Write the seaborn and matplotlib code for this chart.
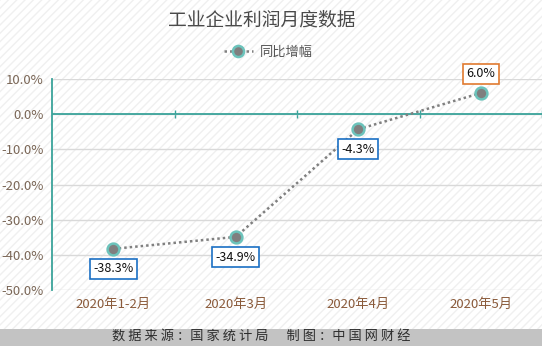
import matplotlib
matplotlib.use("Agg")
import matplotlib.pyplot as plt
from matplotlib.patches import Rectangle
from matplotlib.lines import Line2D
import seaborn as sns
import pandas as pd

categories = ["2020年1-2月", "2020年3月", "2020年4月", "2020年5月"]
values = [-38.3, -34.9, -4.3, 6.0]
series_name = "同比增幅"
title = "工业企业利润月度数据"
footer = "数 据 来 源 ：国 家 统 计 局      制 图 ：中 国 网 财 经"
yticks = [10, 0, -10, -20, -30, -40, -50]

sns.set_theme(style="white")
plt.rcParams['font.family'] = ['Noto Sans CJK SC', 'DejaVu Sans']

TEAL = "#3aa39a"
df = pd.DataFrame({"月份": categories, series_name: values})

fig = plt.figure(figsize=(5.42, 3.46), dpi=100)
fig.patch.set_facecolor("white")
bg = Rectangle((0, 0), 1, 1, transform=fig.transFigure, facecolor="white",
               edgecolor="#f0f0f0", hatch="////", linewidth=0, zorder=-10)
fig.patches.append(bg)

ax = fig.add_axes([52/542, (346-290)/346, 1 - 52/542, (290-79)/346])
ax.set_facecolor("none")

sns.lineplot(data=df, x="月份", y=series_name, ax=ax, sort=False,
             color="#808080", linestyle=(0, (1, 1.2)), linewidth=1.8,
             marker="o", markersize=8.5, markerfacecolor="#7f7f7f",
             markeredgecolor="#6cc3bb", markeredgewidth=1.8, zorder=5)

ax.set_xlim(-0.5, len(categories) - 0.5)
ax.set_ylim(-50, 10)
ax.set_yticks(yticks)
ax.set_yticklabels([f"{v:.1f}%" for v in yticks], color="#7a6656", fontsize=9.5)
ax.set_xticks(range(len(categories)))
ax.set_xticklabels(categories, color="#8a5a3a", fontsize=9.5)
ax.tick_params(axis="x", length=0, pad=6)
ax.tick_params(axis="y", length=4, width=1.2, color=TEAL, direction="out", pad=2)
ax.set_xlabel("")
ax.set_ylabel("")
ax.yaxis.grid(True, color="#d9d9d9", linewidth=1)
ax.set_axisbelow(True)
for s in ["top", "right", "bottom"]:
    ax.spines[s].set_visible(False)
ax.spines["left"].set_color(TEAL)
ax.spines["left"].set_linewidth(1.3)

# zero axis line with band ticks
ax.axhline(0, color=TEAL, linewidth=1.3, zorder=3)
sec = ax.secondary_xaxis(50/60)
sec.set_xticks([i + 0.5 for i in range(len(categories))])
sec.set_xticklabels([])
sec.tick_params(axis="x", direction="inout", length=6, width=1, color=TEAL)
for s in sec.spines.values():
    s.set_visible(False)

# value labels
for i, v in enumerate(values):
    pos = v >= 0
    ec = "#e07a30" if pos else "#1a6fc4"
    off = 14 if pos else -14.5
    ax.annotate(f"{v:.1f}%", (i, v), xytext=(0, off), textcoords="offset points",
                ha="center", va="center", fontsize=9, color="#111111",
                bbox=dict(boxstyle="square,pad=0.28", fc="white", ec=ec, lw=1.2),
                zorder=6)

handle = Line2D([], [], color="#808080", linestyle=(0, (1, 1.2)), linewidth=1.8,
                marker="o", markersize=8, markerfacecolor="#7f7f7f",
                markeredgecolor="#6cc3bb", markeredgewidth=1.8)
fig.legend([handle], [series_name], loc="center", bbox_to_anchor=(0.495, 1 - 52/346),
           frameon=False, fontsize=9.5, handlelength=2.2, handletextpad=0.5,
           labelcolor="#555555")

fig.text(262/542, 1 - 20/346, title, ha="center", va="center", fontsize=13.5,
         color="#4a4a4a")

fig.patches.append(Rectangle((0, 0), 1, 17/346, transform=fig.transFigure,
                             facecolor="#c3c3c3", edgecolor="none", zorder=1))
fig.text(261/542, 8.5/346, footer, ha="center", va="center", fontsize=9.5,
         color="#2e2e2e", zorder=2)

fig.savefig("out.png", dpi=100)
